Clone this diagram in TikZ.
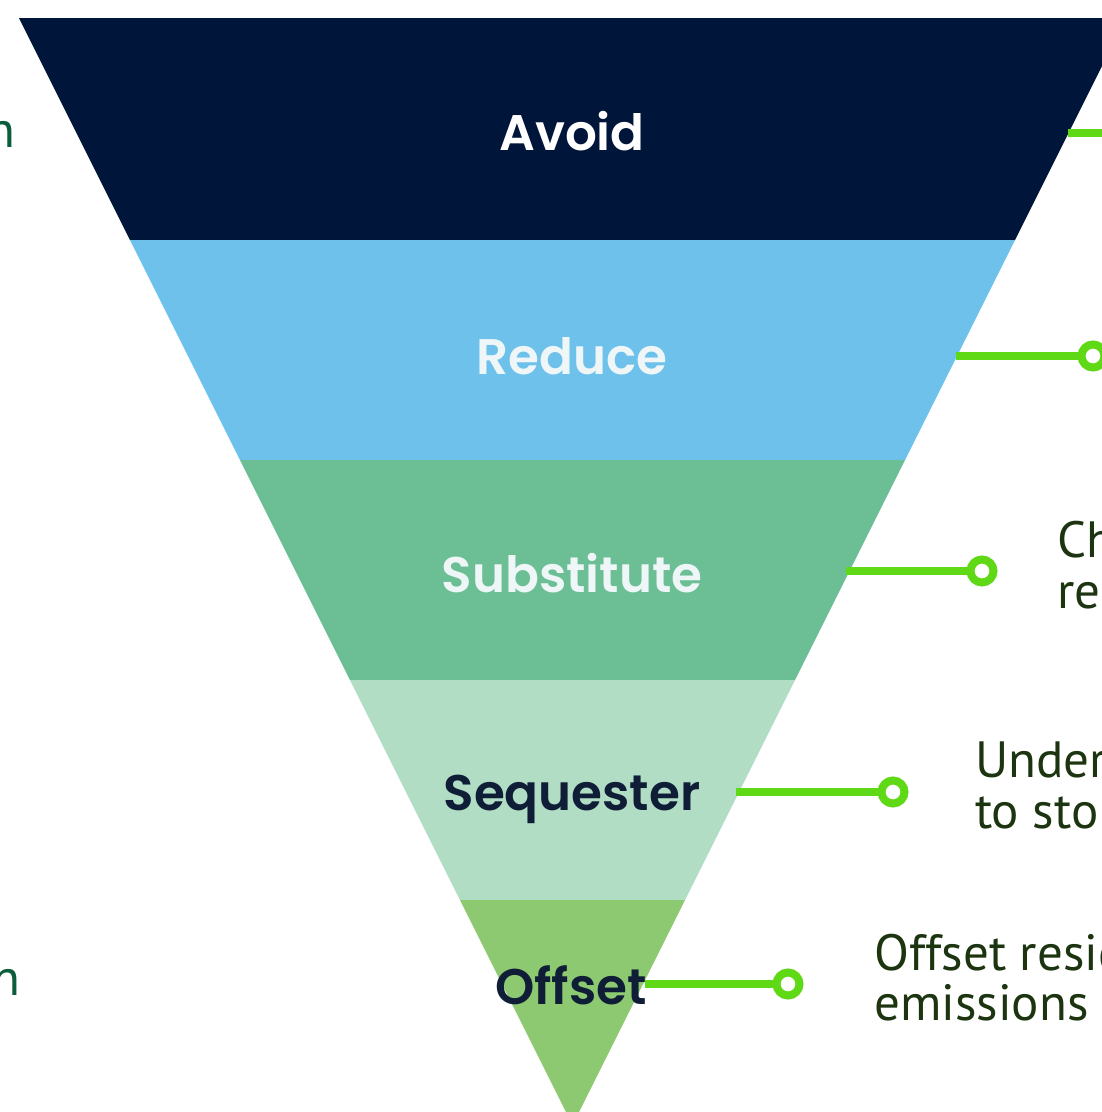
\documentclass[tikz,border=0pt]{standalone}
\usepackage{fontspec}
\setmainfont{PT Sans}
\newfontfamily\lblfont{Poppins}[BoldFont={Poppins SemiBold}]
\definecolor{avoidc}{HTML}{00153A}
\definecolor{reducec}{HTML}{6DC1EA}
\definecolor{substc}{HTML}{6CBF95}
\definecolor{seqc}{HTML}{B1DDC5}
\definecolor{offc}{HTML}{8CC971}
\definecolor{linec}{HTML}{5FD815}
\definecolor{sidetxt}{HTML}{1C3510}
\definecolor{lefttxt}{HTML}{0B5E3C}
\definecolor{darklbl}{HTML}{0F1E36}
\definecolor{lightlbl}{HTML}{EEF6F8}
\tikzset{
  lbl/.style={anchor=base, inner sep=0pt, font=\lblfont\bfseries\fontsize{50}{50}\selectfont},
  side/.style={anchor=base west, inner sep=0pt, text=sidetxt, font=\fontsize{51}{51}\selectfont},
  lside/.style={anchor=base east, inner sep=0pt, text=lefttxt, font=\fontsize{51}{51}\selectfont},
  conn/.style={draw=linec, line width=8.5pt},
  dot/.style={circle, draw=linec, fill=white, line width=8pt, minimum size=23pt, inner sep=0pt}
}
\begin{document}
\begin{tikzpicture}[x=1pt,y=-1pt]
\useasboundingbox (0,0) rectangle (1102,1112);
% bands
\fill[avoidc]  (19,18) -- (1126,18) -- (1015,240) -- (130,240) -- cycle;
\fill[reducec] (130,240) -- (1015,240) -- (905,460) -- (240,460) -- cycle;
\fill[substc]  (240,460) -- (905,460) -- (795,680) -- (350,680) -- cycle;
\fill[seqc]    (350,680) -- (795,680) -- (685,900) -- (460,900) -- cycle;
\fill[offc]    (460,900) -- (685,900) -- (572.5,1125) -- cycle;
% band labels
\node[lbl, text=white]    (avoid) at (572,150) {Avoid};
\node[lbl, text=lightlbl] (reduce) at (572,374) {Reduce};
\node[lbl, text=lightlbl] (subst) at (572,592) {Substitute};
\node[lbl, text=darklbl]  (seq) at (572,810) {Sequester};
\node[lbl, text=darklbl]  (off) at (571,1004) {Offset};
% edge points
\coordinate (e-avoid) at (1068,133);
\coordinate (f-avoid) at (1110,133);
\coordinate (e-reduce) at (956,356);
\coordinate (e-subst) at (846,571);
\coordinate (e-seq) at (736,792);
\coordinate (e-off) at (645,984);
% dots
\node[dot] (d-reduce) at (1093,356) {};
\node[dot] (d-subst) at (982,571) {};
\node[dot] (d-seq) at (893,792) {};
\node[dot] (d-off) at (788,984) {};
% connectors
\draw[conn] (e-avoid) -- (f-avoid);
\draw[conn] (e-reduce) -- (d-reduce);
\draw[conn] (e-subst) -- (d-subst);
\draw[conn] (e-seq) -- (d-seq);
\draw[conn] (e-off) -- (d-off);
% side texts
\node[side] (t-subst1) at (1057,557) {Ch};
\node[side] (t-subst2) at (1057,608) {re};
\node[side] (t-seq1) at (975,777) {Under};
\node[side] (t-seq2) at (975,828) {to sto};
\node[side] (t-off1) at (874,970) {Offset resid};
\node[side] (t-off2) at (874,1020) {emissions};
\node[lside] (l-top) at (16,147) {n};
\node[lside] (l-bot) at (21,995) {n};
\end{tikzpicture}
\end{document}
